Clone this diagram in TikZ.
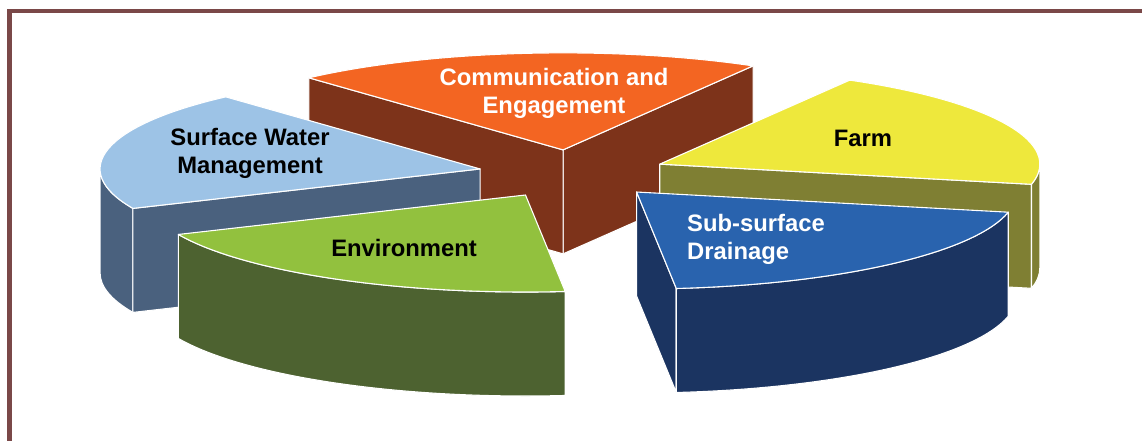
\documentclass[tikz,border=0pt]{standalone}
\usepackage{fontspec}
\setmainfont{Liberation Sans}
\usetikzlibrary{calc}
\definecolor{framebrown}{RGB}{122,72,72}
\definecolor{commtop}{RGB}{243,101,34}
\definecolor{commside}{RGB}{125,51,26}
\definecolor{swtop}{RGB}{157,195,230}
\definecolor{swside}{RGB}{74,97,126}
\definecolor{envtop}{RGB}{146,193,62}
\definecolor{envside}{RGB}{77,98,48}
\definecolor{drtop}{RGB}{41,99,174}
\definecolor{drside}{RGB}{27,52,97}
\definecolor{farmtop}{RGB}{238,232,60}
\definecolor{farmside}{RGB}{127,127,51}
\newcommand{\pieTop}[4]{\filldraw[face, fill=#4] (#1) -- ($(#1)+(#2:380 and 97)$) arc[start angle=#2, end angle=#3, x radius=380, y radius=97] -- cycle;}
\newcommand{\pieCut}[3]{\filldraw[face, fill=#3] (#1) -- ($(#1)+(#2:380 and 97)$) -- ++(0,-104) -- ($(#1)+(0,-104)$) -- cycle;}
\newcommand{\pieRim}[4]{\filldraw[face, fill=#4] ($(#1)+(#2:380 and 97)$) arc[start angle=#2, end angle=#3, x radius=380, y radius=97] -- ++(0,-104) arc[start angle=#3, end angle=#2, x radius=380, y radius=97] -- cycle;}
\begin{document}
\begin{tikzpicture}[x=1pt,y=1pt,
  face/.style={draw=white, line width=1.1pt, line join=round},
  lbl/.style={font=\bfseries\fontsize{23.8}{28}\selectfont, align=center, inner sep=0pt}]
\useasboundingbox (0,0) rectangle (1142,440);
\fill[white] (0,0) rectangle (1142,440);
\draw[line width=4.8pt, color=framebrown, line join=miter] (9.5,-10) -- (9.5,429) -- (1160,429);
\coordinate (C) at (573,266);
\coordinate (Pc) at ($(C)+(96:95 and 24.25)$);
\coordinate (Ps) at ($(C)+(168:95 and 24.25)$);
\coordinate (Pe) at ($(C)+(240:95 and 24.25)$);
\coordinate (Pd) at ($(C)+(312:95 and 24.25)$);
\coordinate (Pf) at ($(C)+(24:95 and 24.25)$);
% Communication and Engagement
\pieCut{Pc}{60}{commside}
\pieCut{Pc}{132}{commside}
\pieTop{Pc}{60}{132}{commtop}
% Surface Water Management
\pieRim{Ps}{180}{204}{swside}
\pieCut{Ps}{204}{swside}
\pieTop{Ps}{132}{204}{swtop}
% Farm
\pieCut{Pf}{-12}{farmside}
\pieRim{Pf}{-12}{0}{farmside}
\pieTop{Pf}{-12}{60}{farmtop}
% Environment
\pieRim{Pe}{204}{276}{envside}
\pieTop{Pe}{204}{276}{envtop}
% Sub-surface Drainage
\pieCut{Pd}{276}{drside}
\pieRim{Pd}{276}{348}{drside}
\pieTop{Pd}{276}{348}{drtop}
% labels
\node[lbl, text=white] (lcomm) at (554,347) {Communication and\\Engagement};
\node[lbl, text=black] (lsw) at (250,287) {Surface Water\\Management};
\node[lbl, text=black] (lenv) at (404,192) {Environment};
\node[lbl, text=black] (lfarm) at (863,302) {Farm};
\node[lbl, text=white, align=left, anchor=west] (ldr) at (687,201) {Sub-surface\\Drainage};
\end{tikzpicture}
\end{document}
